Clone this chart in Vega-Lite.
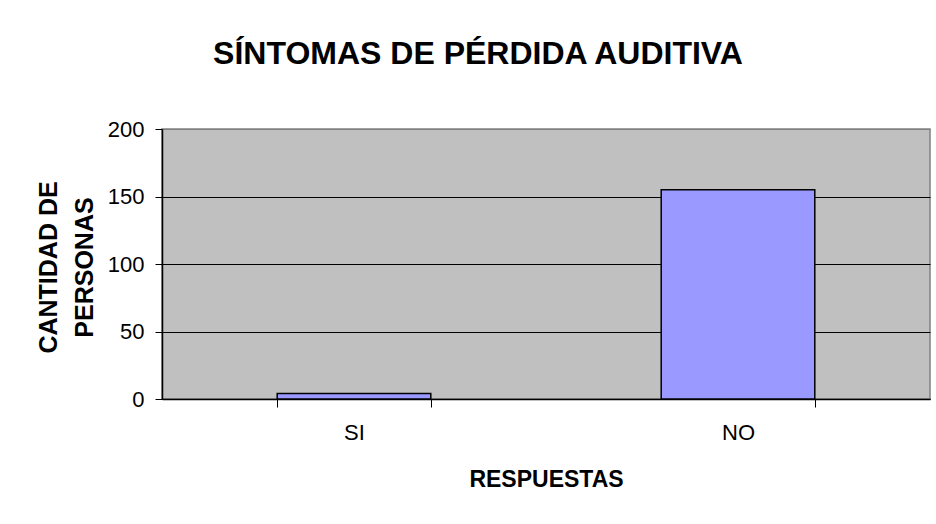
{
  "$schema": "https://vega.github.io/schema/vega-lite/v6.json",
  "autosize": {"type": "none"},
  "width": 768,
  "height": 270,
  "padding": {"left": 162, "top": 129, "right": 6, "bottom": 125},
  "background": "white",
  "config": {
    "font": "Liberation Sans",
    "view": {"fill": "#C0C0C0", "stroke": "#808080", "strokeWidth": 1.5}
  },
  "title": {
    "text": "SÍNTOMAS DE PÉRDIDA AUDITIVA",
    "font": "Liberation Sans",
    "fontSize": 32,
    "fontWeight": "bold",
    "color": "black",
    "anchor": "middle",
    "frame": "group",
    "baseline": "alphabetic",
    "offset": 22,
    "dx": -68
  },
  "data": {
    "values": [
      {"respuesta": "SI", "personas": 4},
      {"respuesta": "NO", "personas": 155}
    ]
  },
  "mark": {"type": "bar", "color": "#9999FF", "stroke": "black", "strokeWidth": 1.5},
  "encoding": {
    "x": {
      "field": "respuesta",
      "type": "nominal",
      "sort": ["SI", "NO"],
      "scale": {"paddingInner": 0.6, "paddingOuter": 0.3},
      "axis": {
        "title": "RESPUESTAS",
        "titleFont": "Liberation Sans",
        "titleFontSize": 23,
        "titleFontWeight": "bold",
        "titleColor": "black",
        "titleBaseline": "top",
        "titleY": 69,
        "labelAngle": 0,
        "labelFont": "Liberation Sans",
        "labelFontSize": 22,
        "labelColor": "black",
        "labelPadding": 15,
        "tickBand": "extent",
        "tickSize": 8,
        "tickColor": "black",
        "domainColor": "black",
        "domainWidth": 1.5
      }
    },
    "y": {
      "field": "personas",
      "type": "quantitative",
      "scale": {"domain": [0, 200], "nice": false},
      "axis": {
        "values": [0, 50, 100, 150, 200],
        "title": ["CANTIDAD DE", "PERSONAS"],
        "titleFont": "Liberation Sans",
        "titleFontSize": 25,
        "titleFontWeight": "bold",
        "titleColor": "black",
        "titleLineHeight": 36,
        "titleBaseline": "bottom",
        "titleX": -101,
        "titleY": 138,
        "labelFont": "Liberation Sans",
        "labelFontSize": 22,
        "labelColor": "black",
        "labelPadding": 11,
        "tickSize": 7,
        "tickColor": "black",
        "domainColor": "black",
        "domainWidth": 1.5,
        "grid": true,
        "gridColor": {"condition": {"test": "datum.value == 200", "value": "#808080"}, "value": "black"},
        "gridWidth": 1.2
      }
    }
  }
}
